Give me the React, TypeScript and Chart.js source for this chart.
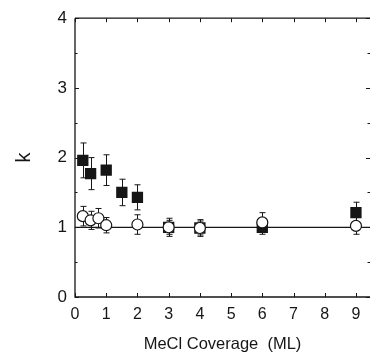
import React, { useEffect, useRef } from "react";
import { Chart, registerables } from "chart.js";

Chart.register(...registerables);

// Axis ticks
const xTickValues = [0, 1, 2, 3, 4, 5, 6, 7, 8, 9];
const yTickValues = [0, 1, 2, 3, 4];
const yMinorValues = [0.5, 1.5, 2.5, 3.5];

// Filled squares series
const filledX = [0.25, 0.5, 1, 1.5, 2, 3, 4, 6, 9];
const filledY = [1.96, 1.77, 1.82, 1.5, 1.43, 1.0, 0.99, 1.0, 1.21];
const filledErr = [0.25, 0.23, 0.22, 0.19, 0.18, 0.13, 0.12, 0.1, 0.15];

// Open circles series
const openX = [0.25, 0.5, 0.75, 1, 2, 3, 4, 6, 9];
const openY = [1.16, 1.1, 1.13, 1.03, 1.04, 1.0, 0.99, 1.07, 1.02];
const openErr = [0.14, 0.13, 0.14, 0.11, 0.14, 0.1, 0.1, 0.14, 0.12];

// Reference line k = 1
const refX = [0, 9.45];
const refY = [1, 1];

const FONT = "'Liberation Sans Narrow', 'Liberation Sans', Arial, sans-serif";
const INK = "#161616";

const errorBarPlugin = {
  id: "errorBars",
  beforeDatasetsDraw(chart: any) {
    const ctx = chart.ctx;
    const xs = chart.scales.x;
    const ys = chart.scales.y;
    ctx.save();
    ctx.strokeStyle = INK;
    ctx.lineWidth = 1;
    const series = [
      [filledX, filledY, filledErr],
      [openX, openY, openErr],
    ];
    for (const [X, Y, E] of series) {
      for (let i = 0; i < X.length; i++) {
        const px = Math.round(xs.getPixelForValue(X[i])) + 0.5;
        const top = ys.getPixelForValue(Y[i] + E[i]);
        const bot = ys.getPixelForValue(Y[i] - E[i]);
        ctx.beginPath();
        ctx.moveTo(px, top);
        ctx.lineTo(px, bot);
        ctx.moveTo(px - 3, top);
        ctx.lineTo(px + 3, top);
        ctx.moveTo(px - 3, bot);
        ctx.lineTo(px + 3, bot);
        ctx.stroke();
      }
    }
    ctx.restore();
  },
};

const framePlugin = {
  id: "frame",
  beforeDatasetsDraw(chart: any) {
    const ctx = chart.ctx;
    const { left, right, top, bottom } = chart.chartArea;
    const xs = chart.scales.x;
    const ys = chart.scales.y;
    ctx.save();
    ctx.strokeStyle = INK;
    ctx.lineWidth = 1.3;
    ctx.beginPath();
    ctx.moveTo(left, top);
    ctx.lineTo(left, bottom);
    ctx.lineTo(right, bottom);
    ctx.moveTo(left, top);
    ctx.lineTo(right, top);
    ctx.stroke();
    ctx.lineWidth = 1;
    ctx.beginPath();
    for (const v of xTickValues) {
      const px = Math.round(xs.getPixelForValue(v)) + 0.5;
      ctx.moveTo(px, bottom);
      ctx.lineTo(px, bottom - 4);
      ctx.moveTo(px, top);
      ctx.lineTo(px, top + 4);
    }
    for (const v of yTickValues) {
      const py = Math.round(ys.getPixelForValue(v)) + 0.5;
      ctx.moveTo(left, py);
      ctx.lineTo(left + 4, py);
      ctx.moveTo(right, py);
      ctx.lineTo(right - 4, py);
    }
    for (const v of yMinorValues) {
      const py = Math.round(ys.getPixelForValue(v)) + 0.5;
      ctx.moveTo(left, py);
      ctx.lineTo(left + 2.5, py);
      ctx.moveTo(right, py);
      ctx.lineTo(right - 2.5, py);
    }
    ctx.stroke();
    ctx.restore();
  },
};

export default function App() {
  const canvasRef = useRef<HTMLCanvasElement | null>(null);

  useEffect(() => {
    document.body.style.margin = "0";
    const canvas = canvasRef.current;
    if (!canvas) return;
    const chart = new Chart(canvas, {
      type: "scatter",
      data: {
        datasets: [
          {
            label: "open",
            data: openX.map((x, i) => ({ x, y: openY[i] })),
            pointStyle: "circle",
            pointRadius: 5.5,
            pointBackgroundColor: "#ffffff",
            pointBorderColor: INK,
            pointBorderWidth: 1.2,
            showLine: false,
          },
          {
            label: "filled",
            data: filledX.map((x, i) => ({ x, y: filledY[i] })),
            pointStyle: "rect",
            pointRadius: 8,
            pointBackgroundColor: INK,
            pointBorderColor: INK,
            pointBorderWidth: 0,
            showLine: false,
          },
          {
            label: "ref",
            data: refX.map((x, i) => ({ x, y: refY[i] })),
            showLine: true,
            borderColor: INK,
            borderWidth: 1.2,
            pointRadius: 0,
          },
        ],
      },
      options: {
        responsive: false,
        animation: false,
        devicePixelRatio: 1,
        layout: { padding: { top: 15, right: 0, left: 0, bottom: 0 } },
        plugins: {
          legend: { display: false },
          tooltip: { enabled: false },
        },
        scales: {
          x: {
            type: "linear",
            min: 0,
            max: 9.45,
            grid: { display: false, drawTicks: false },
            border: { display: false },
            afterBuildTicks: (scale: any) => {
              scale.ticks = xTickValues.map((v) => ({ value: v }));
            },
            afterFit: (scale: any) => {
              scale.height = 60;
            },
            ticks: {
              padding: 8,
              color: INK,
              font: { family: FONT, size: 16 },
              maxRotation: 0,
              autoSkip: false,
            },
            title: {
              display: true,
              text: "MeCl Coverage  (ML)",
              color: INK,
              font: { family: FONT, size: 16.5 },
              padding: { top: 0, bottom: 3 },
            },
          },
          y: {
            type: "linear",
            min: 0,
            max: 4,
            grid: { display: false, drawTicks: false },
            border: { display: false },
            afterBuildTicks: (scale: any) => {
              scale.ticks = yTickValues.map((v) => ({ value: v }));
            },
            afterFit: (scale: any) => {
              scale.width = 75;
            },
            ticks: {
              padding: 8,
              color: INK,
              font: { family: FONT, size: 17 },
            },
            title: {
              display: true,
              text: "k",
              color: INK,
              font: { family: FONT, size: 20 },
              padding: { top: 12, bottom: 0 },
            },
          },
        },
      },
      plugins: [framePlugin, errorBarPlugin],
    });
    return () => chart.destroy();
  }, []);

  return (
    <div style={{ width: 378, height: 357, background: "#fff" }}>
      <canvas ref={canvasRef} width={378} height={357} style={{ width: 378, height: 357, display: "block" }} />
    </div>
  );
}
